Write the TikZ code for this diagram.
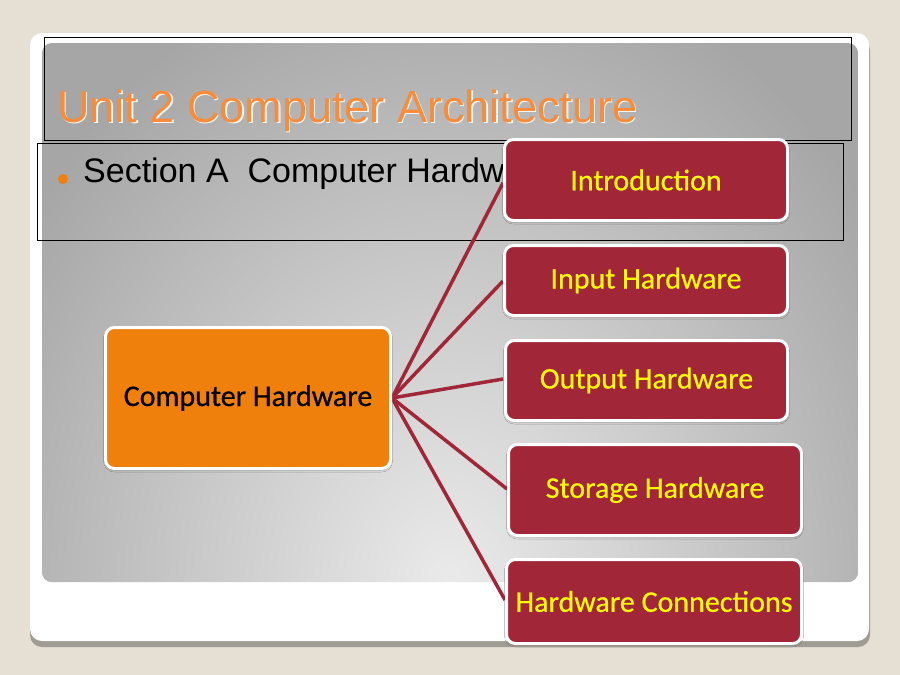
\documentclass[tikz,border=0pt]{standalone}
\usepackage{fontspec}
\usepackage{xcolor}
\usetikzlibrary{positioning, shadows.blur}
\setmainfont{Liberation Sans}
\newfontfamily\boxfont{Carlito}[BoldFont=Carlito, BoldFeatures={FakeBold=0.6}]
\definecolor{slidebg}{RGB}{229,223,212}
\definecolor{wine}{RGB}{160,38,56}
\definecolor{hworange}{RGB}{239,128,12}
\definecolor{titleorange}{RGB}{248,140,60}
\definecolor{labelyellow}{RGB}{255,250,0}
\tikzset{
    topic/.style={rounded corners=9pt, draw=white, line width=3pt, fill=hworange, text=black, % the big orange box
        font=\boxfont\bfseries\fontsize{30}{35}\selectfont,
        blur shadow={shadow xshift=0pt, shadow yshift=-1.5pt, shadow blur radius=2pt, shadow opacity=30}},
    subtopic/.style={topic, fill=wine, text=labelyellow}, % the red boxes on the right
}
\tikzstyle{link} = [wine, line width=3.5pt]

\begin{document}
\begin{tikzpicture}[x=1pt, y=-1pt]
    \useasboundingbox (0,0) rectangle (900,675);
    \fill[slidebg] (0,0) rectangle (900,675);
    % slide and panel
    \fill[black!30!slidebg, rounded corners=12pt] (30,38) rectangle (870,647);
    \fill[white, rounded corners=12pt] (30,33) rectangle (869,641);
    \begin{scope}
        \clip[rounded corners=10pt] (42,43) rectangle (858,582);
        \fill[gray!70] (42,43) rectangle (858,582);
        \shade[inner color=gray!16, outer color=gray!70] (450,585) ellipse (520 and 640);
    \end{scope}
    \draw[black, line width=1pt] (44.5,37.5) rectangle (851,140.5);
    \draw[black, line width=0.8pt] (37,143) rectangle (843,240);

    \node[anchor=base west, inner sep=0pt, text=white!75!slidebg, font=\fontsize{45}{54}\selectfont] (titleshade) at (58.5,123.5) {Unit 2 Computer Architecture};
    \node[anchor=base west, inner sep=0pt, text=titleorange, font=\fontsize{45}{54}\selectfont] (title) at (57,122) {Unit 2 Computer Architecture};
    \fill[hworange] (63,179) circle (5);
    \node[anchor=base west, inner sep=0pt, font=\fontsize{34}{40}\selectfont] (section) at (83,182) {Section A\ \ Computer Hardware};

    \coordinate (hub) at (392,398);
    \path[link] (hub) edge (503,183) edge (503,281) edge (503,379) edge (507,489) edge (505,600);

    \node[topic, minimum width=285pt, minimum height=141pt] (hw) at (248,398) {Computer Hardware};
    \node[subtopic, minimum width=283pt, minimum height=81pt] (intro) at (646,180) {Introduction};
    \node[subtopic, minimum width=283pt, minimum height=70pt] (input) at (646,280.5) {Input Hardware};
    \node[subtopic, minimum width=282pt, minimum height=80pt] (output) at (646.5,380.5) {Output Hardware};
    \node[subtopic, minimum width=293pt, minimum height=91pt] (storage) at (655,490) {Storage Hardware};
    \node[subtopic, minimum width=295pt, minimum height=84pt] (conn) at (654,601.5) {Hardware Connections};
\end{tikzpicture}
\end{document}
